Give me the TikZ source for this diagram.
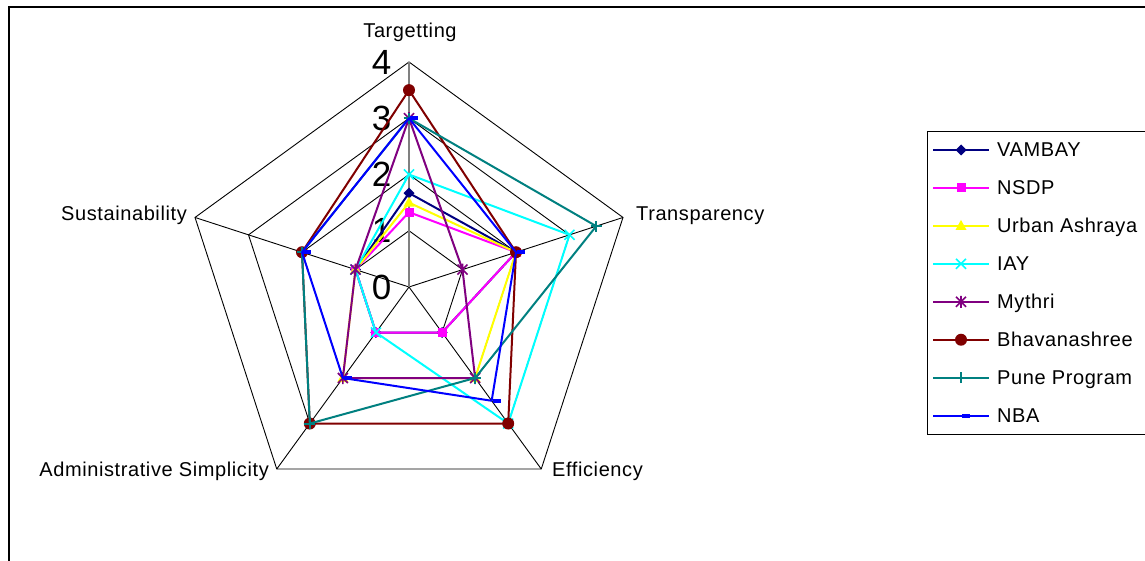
\documentclass[tikz,border=0pt]{standalone}
\usepackage{fontspec}
\setmainfont{Liberation Sans}
\newfontfamily\lab[LetterSpace=3]{Liberation Sans}
\definecolor{cVam}{RGB}{0,0,128}
\definecolor{cNsdp}{RGB}{255,0,255}
\definecolor{cUa}{RGB}{255,255,0}
\definecolor{cIay}{RGB}{0,255,255}
\definecolor{cMyt}{RGB}{128,0,128}
\definecolor{cBha}{RGB}{128,0,0}
\definecolor{cPune}{RGB}{0,128,128}
\definecolor{cNba}{RGB}{0,0,255}
\tikzset{
  pics/mdia/.style={code={\fill (0,5.5)--(5.5,0)--(0,-5.5)--(-5.5,0)--cycle;}},
  pics/msq/.style={code={\fill (-4.5,-4.5) rectangle (4.5,4.5);}},
  pics/mtri/.style={code={\fill (0,6)--(5.5,-4)--(-5.5,-4)--cycle;}},
  pics/mx/.style={code={\draw[line width=1.6] (-5,-5)--(5,5) (-5,5)--(5,-5);}},
  pics/mast/.style={code={\draw[line width=1.6] (-5,-5)--(5,5) (-5,5)--(5,-5) (0,-6)--(0,6);}},
  pics/mcirc/.style={code={\fill (0,0) circle (6);}},
  pics/mplus/.style={code={\draw[line width=2] (-5.5,0)--(5.5,0) (0,-5.5)--(0,5.5);}},
  pics/mbar/.style={code={\fill (1,-2) rectangle (9,2);}},
  serie/.style={line width=2pt, line join=round},
  gridline/.style={black, line width=0.9pt},
  axlab/.style={font=\lab\fontsize{20}{23}\selectfont, inner sep=0},
  numlab/.style={font=\fontsize{35}{40}\selectfont, inner sep=0},
  legtxt/.style={font=\lab\fontsize{20}{23}\selectfont, inner sep=0, anchor=base west},
}
\newcommand\rseries[7]{%
  \draw[serie,#1] (90:{#3*\u}) -- (18:{#4*\u}) -- (-54:{#5*\u}) -- (-126:{#6*\u}) -- (162:{#7*\u}) -- cycle;
  \pic[color=#1] at (90:{#3*\u}) {#2};
  \pic[color=#1] at (18:{#4*\u}) {#2};
  \pic[color=#1] at (-54:{#5*\u}) {#2};
  \pic[color=#1] at (-126:{#6*\u}) {#2};
  \pic[color=#1] at (162:{#7*\u}) {#2};
}
\newcommand\legentry[4]{% index color marker text
  \pgfmathsetmacro\ly{411-37.95*#1}
  \draw[serie,#2] (933,\ly) -- (989,\ly);
  \pic[color=#2] at (961,\ly) {#3};
  \node[legtxt] (leg#1) at (997,\ly-7) {#4};
}
\begin{document}
\begin{tikzpicture}[x=1pt,y=1pt]
\useasboundingbox (0,0) rectangle (1145,561);
\fill[white] (0,0) rectangle (1145,561);
\draw[line width=2pt] (8.5,-2) -- (8.5,554) -- (1147,554);

\begin{scope}[shift={(409,274)}]
\def\u{56.25}
\foreach \k in {1,2,3,4}
  \draw[gridline] (90:{\k*\u}) -- (18:{\k*\u}) -- (-54:{\k*\u}) -- (-126:{\k*\u}) -- (162:{\k*\u}) -- cycle;
\foreach \a in {18,-54,-126,162}
  \draw[gridline] (0,0) -- (\a:{4*\u});
\draw[gray, line width=1.3pt] (0,0) -- (90:{4*\u});
\foreach \k in {0,...,4}
  \node[numlab] (num\k) at (-27.5, {\k*\u}) {\k};

\rseries{cVam}{mdia}{1.67}{2}{1}{1}{1}
\rseries{cNsdp}{msq}{1.33}{2}{1}{1}{1}
\rseries{cUa}{mtri}{1.5}{2}{2}{2}{1}
\rseries{cIay}{mx}{2}{3}{3}{1}{1}
\rseries{cMyt}{mast}{3}{1}{2}{2}{1}
\rseries{cBha}{mcirc}{3.5}{2}{3}{3}{2}
\rseries{cPune}{mplus}{3}{3.5}{2}{3}{2}
\rseries{cNba}{mbar}{3}{2}{2.5}{2}{2}
\end{scope}

\node[axlab, anchor=base] (tTarg) at (410,523) {Targetting};
\node[axlab, anchor=base west] (tTrans) at (636,340.5) {Transparency};
\node[axlab, anchor=base west] (tEff) at (552,84) {Efficiency};
\node[axlab, anchor=base east] (tAdm) at (269,84) {Administrative Simplicity};
\node[axlab, anchor=base east] (tSus) at (187,340.5) {Sustainability};

\draw[line width=1pt] (927,429.3) rectangle (1150,126);
\legentry{0}{cVam}{mdia}{VAMBAY}
\legentry{1}{cNsdp}{msq}{NSDP}
\legentry{2}{cUa}{mtri}{Urban Ashraya}
\legentry{3}{cIay}{mx}{IAY}
\legentry{4}{cMyt}{mast}{Mythri}
\legentry{5}{cBha}{mcirc}{Bhavanashree}
\legentry{6}{cPune}{mplus}{Pune Program}
\legentry{7}{cNba}{mbar}{NBA}
\end{tikzpicture}
\end{document}
